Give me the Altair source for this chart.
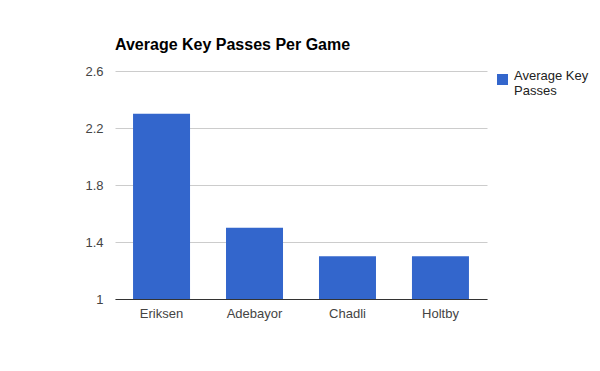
import altair as alt
import pandas as pd

players = ["Eriksen", "Adebayor", "Chadli", "Holtby"]
key_passes = [2.3, 1.5, 1.3, 1.3]
series_name = "Average Key Passes"
y_ticks = [1, 1.4, 1.8, 2.2, 2.6]

df = pd.DataFrame({"player": players, "value": key_passes, "series": [series_name] * len(players)})

FONT = "Liberation Sans"

chart = alt.Chart(df).mark_bar(clip=True).encode(
    x=alt.X(
        "player:N", sort=players, title=None,
        scale=alt.Scale(paddingInner=0.387, paddingOuter=0.194),
        axis=alt.Axis(labelAngle=0, ticks=False, domainColor="#333333", domainWidth=1,
                      labelColor="#444444", labelFontSize=13, labelFont=FONT, labelPadding=8),
    ),
    y=alt.Y(
        "value:Q", title=None,
        scale=alt.Scale(domain=[1, 2.6], nice=False, zero=False),
        axis=alt.Axis(values=y_ticks, format="~g", domain=False, ticks=False, gridColor="#cccccc",
                      labelPadding=12, labelColor="#444444", labelFontSize=13, labelFont=FONT),
    ),
    color=alt.Color(
        "series:N",
        scale=alt.Scale(range=["#3366cc"]),
        legend=alt.Legend(title=None, orient="none", legendX=381, legendY=2,
                          symbolType="square", symbolSize=121, symbolStrokeWidth=0,
                          labelExpr="['Average Key', 'Passes']", labelFont=FONT,
                          labelFontSize=13, labelColor="#222222", labelBaseline="alphabetic",
                          labelOffset=5, labelLimit=200),
    ),
).properties(
    width=372,
    height=228,
    title=alt.TitleParams("Average Key Passes Per Game", anchor="start", frame="group",
                          font=FONT, fontSize=16, fontWeight="bold", color="#000000", offset=12),
    autosize=alt.AutoSizeParams(type="none"),
    padding={"left": 107, "top": 63, "right": 105, "bottom": 64},
).configure_view(stroke=None)

chart.save("out.html", embed_options={"renderer": "svg", "actions": False})
